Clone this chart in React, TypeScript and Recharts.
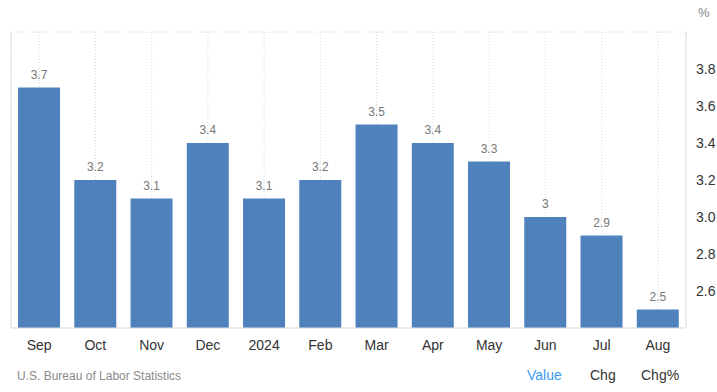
import { BarChart, Bar, XAxis, YAxis, CartesianGrid, LabelList } from "recharts";

const months = ["Sep", "Oct", "Nov", "Dec", "2024", "Feb", "Mar", "Apr", "May", "Jun", "Jul", "Aug"];
const rates = [3.7, 3.2, 3.1, 3.4, 3.1, 3.2, 3.5, 3.4, 3.3, 3, 2.9, 2.5];
const yTicks = [2.4, 2.6, 2.8, 3.0, 3.2, 3.4, 3.6, 3.8, 4.0];

const data = months.map((m, i) => ({ month: m, value: rates[i] }));

const FONT = '"Liberation Sans", Arial, sans-serif';

export default function App() {
  return (
    <div style={{ position: "absolute", left: 0, top: 0, width: 717, height: 392, fontFamily: FONT }}>
      <BarChart
        width={717}
        height={392}
        data={data}
        margin={{ top: 32, right: 0, bottom: 34, left: 0 }}
        barCategoryGap="12.5%"
      >
        <CartesianGrid stroke="#d8d8d8" strokeDasharray="1 2" />
        <XAxis
          dataKey="month"
          axisLine={{ stroke: "#e0e0e0" }}
          tickLine={false}
          tick={{ fill: "#333", fontSize: 14, fontFamily: FONT }}
          tickMargin={6}
          height={30}
        />
        <YAxis
          yAxisId="left"
          orientation="left"
          width={11}
          domain={[2.4, 4.0]}
          ticks={yTicks}
          tick={false}
          tickLine={false}
          axisLine={{ stroke: "#e0e0e0" }}
        />
        <YAxis
          yAxisId="right"
          orientation="right"
          width={31}
          domain={[2.4, 4.0]}
          ticks={yTicks}
          interval={0}
          tickFormatter={(v: number) => (v <= 2.4 || v >= 4.0 ? "" : v.toFixed(1))}
          tick={{ fill: "#333", fontSize: 14, fontFamily: FONT }}
          tickLine={false}
          tickMargin={4}
          axisLine={{ stroke: "#e0e0e0" }}
        />
        <Bar dataKey="value" yAxisId="right" fill="#4f81bd" isAnimationActive={false}>
          <LabelList
            dataKey="value"
            position="top"
            offset={9}
            style={{ fill: "#777", fontSize: 12, fontFamily: FONT }}
          />
        </Bar>
        <text x={698} y={17} fill="#888" fontSize={13} fontFamily={FONT}>
          %
        </text>
        <text x={17} y={380} fill="#8a8a8a" fontSize={12} fontFamily={FONT}>
          U.S. Bureau of Labor Statistics
        </text>
        <text x={527} y={380} fill="#3b9cf0" fontSize={14} fontFamily={FONT}>
          Value
        </text>
        <text x={590} y={380} fill="#333" fontSize={14} fontFamily={FONT}>
          Chg
        </text>
        <text x={641} y={380} fill="#333" fontSize={14} fontFamily={FONT}>
          Chg%
        </text>
      </BarChart>
    </div>
  );
}
